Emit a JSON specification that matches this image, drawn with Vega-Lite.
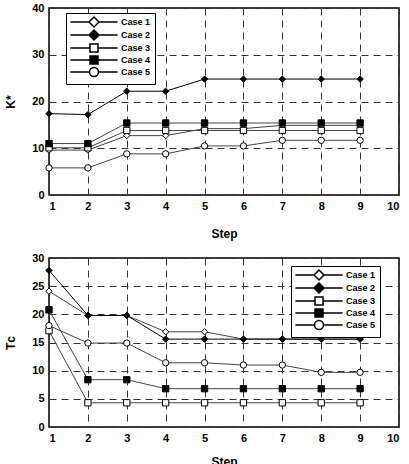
{
  "$schema": "https://vega.github.io/schema/vega-lite/v6.json",
  "padding": {"left": 4, "top": 1, "right": 0, "bottom": 0},
  "spacing": 11,
  "config": {
    "font": "Liberation Sans",
    "view": {"stroke": "black", "strokeWidth": 1.5},
    "axis": {
      "labelFont": "Liberation Sans", "labelFontWeight": "bold", "labelFontSize": 11, "labelColor": "black",
      "titleFont": "Liberation Sans", "titleFontWeight": "bold", "titleFontSize": 12, "titleColor": "black",
      "ticks": false, "domain": false, "labelPadding": 5,
      "grid": true, "gridColor": "#333", "gridDash": [7, 5], "gridWidth": 1, "gridOpacity": 1
    },
    "legend": {
      "labelFont": "Liberation Sans", "labelFontWeight": "bold", "labelFontSize": 9, "labelColor": "black",
      "fillColor": "white", "strokeColor": "black", "padding": 4, "symbolSize": 64,
      "rowPadding": -6, "labelOffset": 22, "symbolOffset": 19, "title": null
    }
  },
  "datasets": {
    "k": [
      {"s":1,"c":"Case 1","v":9.6},{"s":2,"c":"Case 1","v":9.6},{"s":3,"c":"Case 1","v":12.7},{"s":4,"c":"Case 1","v":12.7},{"s":5,"c":"Case 1","v":14.2},{"s":6,"c":"Case 1","v":14.2},{"s":7,"c":"Case 1","v":14.9},{"s":8,"c":"Case 1","v":14.9},{"s":9,"c":"Case 1","v":14.9},
      {"s":1,"c":"Case 2","v":17.4},{"s":2,"c":"Case 2","v":17.2},{"s":3,"c":"Case 2","v":22.2},{"s":4,"c":"Case 2","v":22.2},{"s":5,"c":"Case 2","v":24.8},{"s":6,"c":"Case 2","v":24.8},{"s":7,"c":"Case 2","v":24.8},{"s":8,"c":"Case 2","v":24.8},{"s":9,"c":"Case 2","v":24.8},
      {"s":1,"c":"Case 3","v":10.1},{"s":2,"c":"Case 3","v":10.1},{"s":3,"c":"Case 3","v":13.8},{"s":4,"c":"Case 3","v":13.8},{"s":5,"c":"Case 3","v":13.8},{"s":6,"c":"Case 3","v":13.8},{"s":7,"c":"Case 3","v":13.8},{"s":8,"c":"Case 3","v":13.8},{"s":9,"c":"Case 3","v":13.8},
      {"s":1,"c":"Case 4","v":11.0},{"s":2,"c":"Case 4","v":11.0},{"s":3,"c":"Case 4","v":15.4},{"s":4,"c":"Case 4","v":15.4},{"s":5,"c":"Case 4","v":15.4},{"s":6,"c":"Case 4","v":15.4},{"s":7,"c":"Case 4","v":15.4},{"s":8,"c":"Case 4","v":15.4},{"s":9,"c":"Case 4","v":15.4},
      {"s":1,"c":"Case 5","v":5.8},{"s":2,"c":"Case 5","v":5.8},{"s":3,"c":"Case 5","v":8.8},{"s":4,"c":"Case 5","v":8.8},{"s":5,"c":"Case 5","v":10.5},{"s":6,"c":"Case 5","v":10.5},{"s":7,"c":"Case 5","v":11.7},{"s":8,"c":"Case 5","v":11.7},{"s":9,"c":"Case 5","v":11.7}
    ],
    "t": [
      {"s":1,"c":"Case 1","v":24.1},{"s":2,"c":"Case 1","v":19.8},{"s":3,"c":"Case 1","v":19.8},{"s":4,"c":"Case 1","v":16.9},{"s":5,"c":"Case 1","v":16.9},{"s":6,"c":"Case 1","v":15.6},{"s":7,"c":"Case 1","v":15.6},{"s":8,"c":"Case 1","v":15.6},{"s":9,"c":"Case 1","v":15.6},
      {"s":1,"c":"Case 2","v":27.8},{"s":2,"c":"Case 2","v":19.8},{"s":3,"c":"Case 2","v":19.8},{"s":4,"c":"Case 2","v":15.6},{"s":5,"c":"Case 2","v":15.6},{"s":6,"c":"Case 2","v":15.6},{"s":7,"c":"Case 2","v":15.6},{"s":8,"c":"Case 2","v":15.6},{"s":9,"c":"Case 2","v":15.6},
      {"s":1,"c":"Case 3","v":17.1},{"s":2,"c":"Case 3","v":4.3},{"s":3,"c":"Case 3","v":4.3},{"s":4,"c":"Case 3","v":4.3},{"s":5,"c":"Case 3","v":4.3},{"s":6,"c":"Case 3","v":4.3},{"s":7,"c":"Case 3","v":4.3},{"s":8,"c":"Case 3","v":4.3},{"s":9,"c":"Case 3","v":4.3},
      {"s":1,"c":"Case 4","v":20.8},{"s":2,"c":"Case 4","v":8.4},{"s":3,"c":"Case 4","v":8.4},{"s":4,"c":"Case 4","v":6.8},{"s":5,"c":"Case 4","v":6.8},{"s":6,"c":"Case 4","v":6.8},{"s":7,"c":"Case 4","v":6.8},{"s":8,"c":"Case 4","v":6.8},{"s":9,"c":"Case 4","v":6.8},
      {"s":1,"c":"Case 5","v":18.0},{"s":2,"c":"Case 5","v":14.9},{"s":3,"c":"Case 5","v":14.9},{"s":4,"c":"Case 5","v":11.4},{"s":5,"c":"Case 5","v":11.4},{"s":6,"c":"Case 5","v":11.0},{"s":7,"c":"Case 5","v":11.0},{"s":8,"c":"Case 5","v":9.7},{"s":9,"c":"Case 5","v":9.7}
    ]
  },
  "resolve": {"legend": {"shape": "independent", "fill": "independent"}},
  "vconcat": [
    {
      "width": 350, "height": 187,
      "data": {"name": "k"},
      "encoding": {
        "x": {"field": "s", "type": "quantitative", "title": "Step", "scale": {"domain": [1, 10], "nice": false, "zero": false}, "axis": {"values": [1,2,3,4,5,6,7,8,9,10], "titlePadding": 17}},
        "y": {"field": "v", "type": "quantitative", "title": "K*", "scale": {"domain": [0, 40], "nice": false}, "axis": {"values": [0,10,20,30,40], "titlePadding": 14}}
      },
      "resolve": {"scale": {"shape": "independent", "fill": "independent"}},
      "layer": [
        {
          "mark": {"type": "line", "strokeWidth": 1},
          "encoding": {
            "detail": {"field": "c"},
            "stroke": {"field": "c", "type": "nominal", "legend": null, "scale": {"domain": ["Case 1","Case 2","Case 3","Case 4","Case 5"], "range": ["#444","#000","#444","#444","#444"]}}
          }
        },
        {
          "mark": {"type": "point", "filled": true, "stroke": "black", "strokeWidth": 1, "size": 40, "opacity": 1},
          "encoding": {
            "shape": {"field": "c", "type": "nominal", "legend": null, "scale": {"domain": ["Case 1","Case 2","Case 3","Case 4","Case 5"], "range": ["diamond","diamond","square","square","circle"]}},
            "fill": {"field": "c", "type": "nominal", "legend": null, "scale": {"domain": ["Case 1","Case 2","Case 3","Case 4","Case 5"], "range": ["white","black","white","black","white"]}}
          }
        },
        {
          "transform": [{"filter": "false"}],
          "mark": {"type": "point", "filled": true, "stroke": "black", "strokeWidth": 1, "opacity": 1},
          "encoding": {
            "shape": {"field": "c", "type": "nominal", "scale": {"domain": ["Case 1","Case 2","Case 3","Case 4","Case 5"], "range": [
              "M-5.9,0L-1.25,0M1.25,0L5.9,0M0,-1.25L1.25,0L0,1.25L-1.25,0Z",
              "M-5.9,0L-1.25,0M1.25,0L5.9,0M0,-1.25L1.25,0L0,1.25L-1.25,0Z",
              "M-5.9,0L-1,0M1,0L5.9,0M-1,-1L1,-1L1,1L-1,1Z",
              "M-5.9,0L-1,0M1,0L5.9,0M-1,-1L1,-1L1,1L-1,1Z",
              "M-5.9,0L-1.12,0M1.12,0L5.9,0M1.12,0A1.12,1.12,0,1,1,-1.12,0A1.12,1.12,0,1,1,1.12,0Z"]},
              "legend": {"orient": "none", "legendX": 17, "legendY": 5}},
            "fill": {"field": "c", "type": "nominal", "scale": {"domain": ["Case 1","Case 2","Case 3","Case 4","Case 5"], "range": ["white","black","white","black","white"]},
              "legend": {"orient": "none", "legendX": 17, "legendY": 5}}
          }
        }
      ]
    },
    {
      "width": 350, "height": 169,
      "data": {"name": "t"},
      "encoding": {
        "x": {"field": "s", "type": "quantitative", "title": "Step", "scale": {"domain": [1, 10], "nice": false, "zero": false}, "axis": {"values": [1,2,3,4,5,6,7,8,9,10], "titlePadding": 13}},
        "y": {"field": "v", "type": "quantitative", "title": "Tᴄ", "scale": {"domain": [0, 30], "nice": false}, "axis": {"values": [0,5,10,15,20,25,30], "titlePadding": 14}}
      },
      "resolve": {"scale": {"shape": "independent", "fill": "independent"}},
      "layer": [
        {
          "mark": {"type": "line", "strokeWidth": 1},
          "encoding": {
            "detail": {"field": "c"},
            "stroke": {"field": "c", "type": "nominal", "legend": null, "scale": {"domain": ["Case 1","Case 2","Case 3","Case 4","Case 5"], "range": ["#444","#000","#444","#444","#444"]}}
          }
        },
        {
          "mark": {"type": "point", "filled": true, "stroke": "black", "strokeWidth": 1, "size": 40, "opacity": 1},
          "encoding": {
            "shape": {"field": "c", "type": "nominal", "legend": null, "scale": {"domain": ["Case 1","Case 2","Case 3","Case 4","Case 5"], "range": ["diamond","diamond","square","square","circle"]}},
            "fill": {"field": "c", "type": "nominal", "legend": null, "scale": {"domain": ["Case 1","Case 2","Case 3","Case 4","Case 5"], "range": ["white","black","white","black","white"]}}
          }
        },
        {
          "transform": [{"filter": "false"}],
          "mark": {"type": "point", "filled": true, "stroke": "black", "strokeWidth": 1, "opacity": 1},
          "encoding": {
            "shape": {"field": "c", "type": "nominal", "scale": {"domain": ["Case 1","Case 2","Case 3","Case 4","Case 5"], "range": [
              "M-5.9,0L-1.25,0M1.25,0L5.9,0M0,-1.25L1.25,0L0,1.25L-1.25,0Z",
              "M-5.9,0L-1.25,0M1.25,0L5.9,0M0,-1.25L1.25,0L0,1.25L-1.25,0Z",
              "M-5.9,0L-1,0M1,0L5.9,0M-1,-1L1,-1L1,1L-1,1Z",
              "M-5.9,0L-1,0M1,0L5.9,0M-1,-1L1,-1L1,1L-1,1Z",
              "M-5.9,0L-1.12,0M1.12,0L5.9,0M1.12,0A1.12,1.12,0,1,1,-1.12,0A1.12,1.12,0,1,1,1.12,0Z"]},
              "legend": {"orient": "none", "legendX": 242, "legendY": 8}},
            "fill": {"field": "c", "type": "nominal", "scale": {"domain": ["Case 1","Case 2","Case 3","Case 4","Case 5"], "range": ["white","black","white","black","white"]},
              "legend": {"orient": "none", "legendX": 242, "legendY": 8}}
          }
        }
      ]
    }
  ]
}
